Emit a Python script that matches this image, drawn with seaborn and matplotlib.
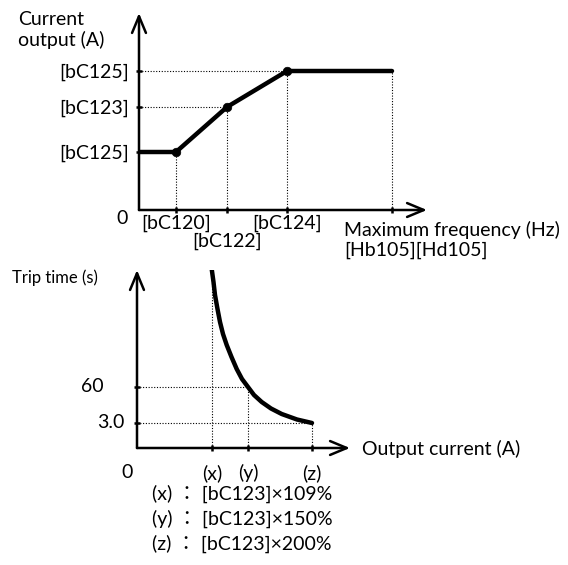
import matplotlib
matplotlib.use("Agg")
import matplotlib.pyplot as plt
import matplotlib.transforms as mtrans
import seaborn as sns

# upper chart: current limit against output frequency (relative positions)
freq_pts = [0, 37, 88, 148, 253]
current_pts = [58, 58, 103, 139, 139]
freq_ticks = [37, 88, 148, 253]
freq_labels = ["[bC120]", "[bC122]", "[bC124]", ""]
current_ticks = [58, 103, 139]
current_labels = ["[bC125]", "[bC123]", "[bC125]"]

# lower chart: trip time against output current
out_current = [74.7, 76.5, 78, 80.5, 83, 86, 89.7, 94.5, 99.7, 105, 111, 117, 124.7, 134, 144.7, 160, 175]
trip_time = [179, 166, 153, 139, 126, 114, 103, 91, 79, 69, 61, 53, 46, 39.5, 34, 28.5, 25]
cur_ticks = [75, 111, 175]
cur_labels = ["(x)", "(y)", "(z)"]
time_ticks = [25, 61]
time_labels = ["3.0", "60"]
notes = ["(x) ： [bC123]×109%", "(y) ： [bC123]×150%", "(z) ： [bC123]×200%"]

W, H = 568, 565
FS = 14


def px(x, y):
    return x / W, 1 - y / H


sns.set_theme(style="white")
plt.rcParams["font.family"] = ["Lato", "Noto Sans CJK JP", "DejaVu Sans"]
plt.rcParams["text.color"] = "black"

fig = plt.figure(figsize=(W / 100, H / 100), dpi=100)
ax1 = fig.add_axes([139 / W, 1 - 210 / H, 288 / W, 197 / H])
ax2 = fig.add_axes([137 / W, 1 - 448 / H, 213 / W, 178 / H])

dot = dict(color="black", lw=0.8, linestyle=(0, (1, 1.5)))


def arrow_axes(ax):
    for sp in ax.spines.values():
        sp.set_visible(False)
    ax.patch.set_visible(False)
    style = "->,head_length=0.6,head_width=0.25"
    for tip in [(1, 0), (0, 1)]:
        ax.annotate("", xy=tip, xytext=(0, 0), xycoords="axes fraction",
                    arrowprops=dict(arrowstyle=style, lw=1.8, color="black",
                                    mutation_scale=20, shrinkA=0, shrinkB=0))
    ax.tick_params(bottom=True, left=True, direction="inout", length=5, width=1.8,
                   color="black", labelsize=FS, labelcolor="black")


# --- upper chart ---
sns.lineplot(x=freq_pts, y=current_pts, ax=ax1, color="black", lw=3.2, sort=False)
sns.scatterplot(x=freq_pts[1:4], y=current_pts[1:4], ax=ax1, color="black", s=38,
                edgecolor="black", zorder=5)
ax1.vlines(freq_pts[1:], 0, current_pts[1:], **dot)
ax1.hlines(current_pts[2:4], 0, freq_pts[2:4], **dot)
ax1.set_xlim(0, 288)
ax1.set_ylim(0, 197)
arrow_axes(ax1)
# the second frequency label sits on a lower row
ax1.set_xticks(freq_ticks, [lab if i != 1 else "" for i, lab in enumerate(freq_labels)])
ax1.set_yticks(current_ticks, current_labels)
ax1.tick_params(axis="x", pad=1)
ax1.tick_params(axis="y", pad=5)
ax1.set_xlabel("")
ax1.set_ylabel("")
blend1 = mtrans.blended_transform_factory(ax1.transData, ax1.transAxes)
ax1.text(freq_ticks[1], -0.16, freq_labels[1], transform=blend1, fontsize=FS,
         ha="center", va="center")

fig.text(*px(18, 30), "Current\noutput (A)", fontsize=FS, va="center", ha="left")
fig.text(*px(122, 219), "0", fontsize=FS, va="center", ha="center")
fig.text(*px(344, 240), "Maximum frequency (Hz)\n[Hb105][Hd105]", fontsize=FS,
         va="center", ha="left")

# --- lower chart ---
sns.lineplot(x=out_current, y=trip_time, ax=ax2, color="black", lw=3.2, sort=False)
ax2.vlines(cur_ticks, 0, [trip_time[0], trip_time[10], trip_time[-1]], **dot)
ax2.hlines(time_ticks, 0, [cur_ticks[2], cur_ticks[1]], **dot)
ax2.set_xlim(0, 213)
ax2.set_ylim(0, 178)
arrow_axes(ax2)
ax2.set_xticks(cur_ticks, cur_labels)
ax2.set_yticks(time_ticks, ["", ""])
ax2.tick_params(axis="x", pad=9)
ax2.set_xlabel("")
ax2.set_ylabel("")
blend2 = mtrans.blended_transform_factory(ax2.transAxes, ax2.transData)
ax2.text(-0.21, time_ticks[1], time_labels[1], transform=blend2, fontsize=FS, ha="center", va="center")
ax2.text(-0.125, time_ticks[0], time_labels[0], transform=blend2, fontsize=FS, ha="center", va="center")

fig.text(*px(12, 278), "Trip time (s)", fontsize=12, va="center", ha="left")
fig.text(*px(127, 472), "0", fontsize=FS, va="center", ha="center")
fig.text(*px(362, 449), "Output current (A)", fontsize=FS, va="center", ha="left")
for i, note in enumerate(notes):
    fig.text(*px(152, 494 + 25 * i), note, fontsize=FS, va="center", ha="left")

fig.savefig("out.png", dpi=100)
